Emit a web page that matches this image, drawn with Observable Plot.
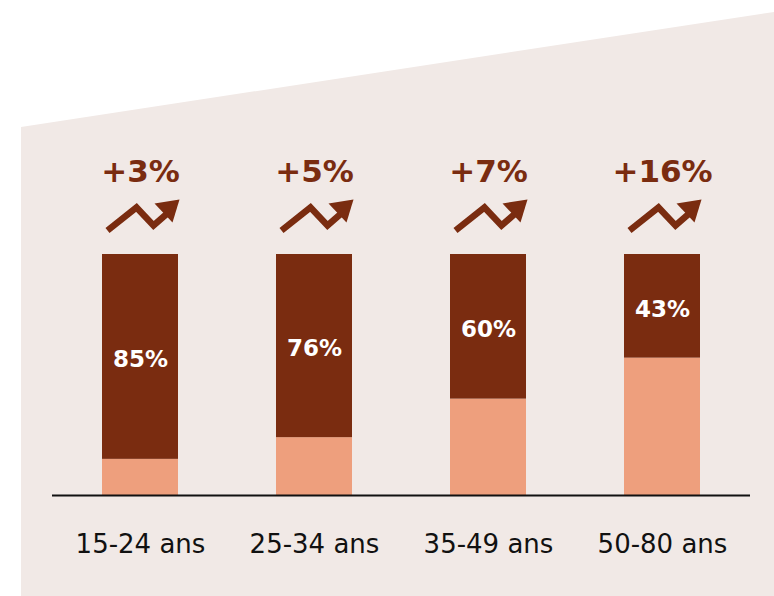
<!DOCTYPE html>
<html>
<head>
<meta charset="utf-8">
<script src="https://cdn.jsdelivr.net/npm/d3@7"></script>
<script src="https://cdn.jsdelivr.net/npm/@observablehq/plot@0.6"></script>
<style>
  html, body { margin: 0; padding: 0; background: #ffffff; }
  #wrap { position: relative; width: 774px; height: 596px; }
  #bg { position: absolute; left: 0; top: 0; width: 774px; height: 596px; background: #f1e9e6;
        clip-path: polygon(21px 127px, 774px 12px, 774px 596px, 21px 596px); }
  #chart { position: absolute; left: 0; top: 0; }
  #chart svg { background: transparent !important; }
</style>
</head>
<body>
<div id="wrap"><div id="bg"></div><div id="chart"></div></div>
<script>
const ages = ["15-24 ans", "25-34 ans", "35-49 ans", "50-80 ans"];
const shares = [85, 76, 60, 43];
const growth = ["+3%", "+5%", "+7%", "+16%"];

const dark = "#7a2c10";
const light = "#ee9f7d";
const font = "'DejaVu Sans', sans-serif";

const rows = ages.map((a, i) => ({age: a, share: shares[i], growth: growth[i]}));

const icon = "data:image/svg+xml;utf8," + encodeURIComponent(
  `<svg xmlns="http://www.w3.org/2000/svg" viewBox="0 0 80 40" width="80" height="40">` +
  `<polyline points="4,35 33,12 50,30 66,16" fill="none" stroke="${dark}" stroke-width="6.5" stroke-linejoin="miter"/>` +
  `<polygon points="76,4 51,8 69,27" fill="${dark}"/></svg>`);

const chart = Plot.plot({
  width: 774,
  height: 596,
  marginLeft: 52,
  marginRight: 24,
  marginTop: 254,
  marginBottom: 101,
  style: {background: "transparent", fontFamily: font},
  x: {domain: ages, paddingInner: 0.564, paddingOuter: 0.2845, label: null},
  y: {domain: [0, 100], axis: null},
  marks: [
    Plot.axisX({tickSize: 0, tickPadding: 39, fontSize: 26, fill: "#111", label: null, fontFamily: font}),
    Plot.barY(rows, {x: "age", y1: 0, y2: d => 100 - d.share, fill: light}),
    Plot.barY(rows, {x: "age", y1: d => 100 - d.share, y2: 100, fill: dark}),
    Plot.ruleY([0], {stroke: "#111", strokeWidth: 2}),
    Plot.text(rows, {x: "age", y: d => 100 - d.share / 2, dy: 3, text: d => d.share + "%", fill: "#fff",
      fontSize: 23, fontWeight: "bold", lineAnchor: "middle", fontFamily: font}),
    Plot.text(rows, {x: "age", y: 100, dy: -82, text: "growth", fill: dark,
      fontSize: 31, fontWeight: "bold", lineAnchor: "middle", fontFamily: font}),
    Plot.image(rows, {x: "age", y: 100, src: () => icon, width: 80, height: 40, dx: 3, dy: -39})
  ]
});
document.getElementById("chart").appendChild(chart);
</script>
</body>
</html>
